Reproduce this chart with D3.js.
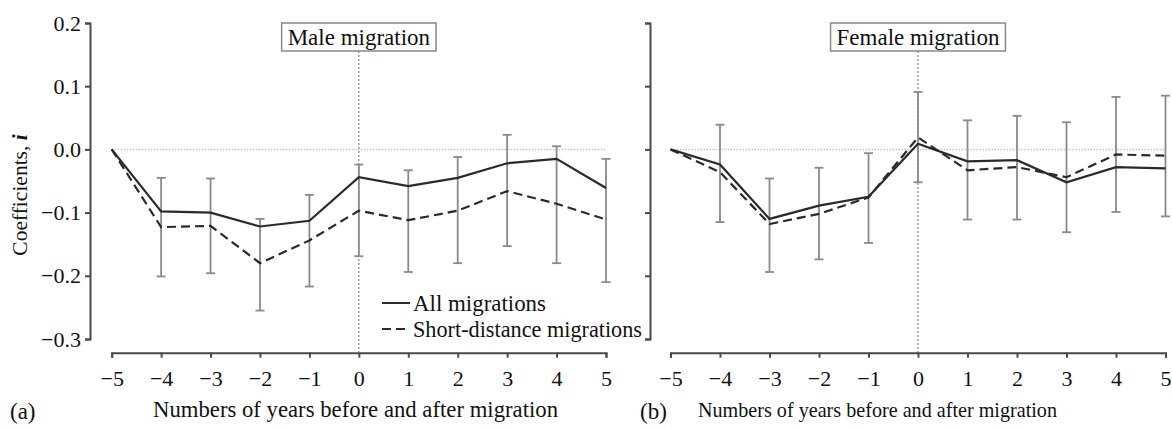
<!DOCTYPE html>
<html><head><meta charset="utf-8">
<script src="https://cdn.jsdelivr.net/npm/d3@7"></script>
<style>
html,body{margin:0;padding:0;background:#fff;}
svg{display:block;font-family:"Liberation Serif","Times New Roman",serif;}
</style></head>
<body><svg id="c" width="1172" height="428"></svg>
<script>
// ---- data ----
const years = [-5,-4,-3,-2,-1,0,1,2,3,4,5];
const yTicks = [0.2,0.1,0.0,-0.1,-0.2,-0.3];
const seriesNames = ["All migrations","Short-distance migrations"];
const panelTitles = ["Male migration","Female migration"];
const panelLetters = ["(a)","(b)"];
const xTitle = "Numbers of years before and after migration";

const maleAll   = [0,-0.098,-0.100,-0.122,-0.113,-0.044,-0.058,-0.045,-0.022,-0.015,-0.061];
const maleShort = [0,-0.123,-0.121,-0.180,-0.144,-0.097,-0.112,-0.097,-0.066,-0.086,-0.111];
const maleHi    = [null,-0.045,-0.046,-0.110,-0.072,-0.024,-0.033,-0.012,0.023,0.005,-0.015];
const maleLo    = [null,-0.201,-0.196,-0.255,-0.217,-0.169,-0.194,-0.180,-0.153,-0.180,-0.210];

const femAll    = [0,-0.024,-0.110,-0.089,-0.075,0.009,-0.019,-0.017,-0.052,-0.028,-0.030];
const femShort  = [0,-0.036,-0.118,-0.102,-0.076,0.019,-0.033,-0.028,-0.044,-0.008,-0.010];
const femHi     = [null,0.039,-0.046,-0.029,-0.006,0.091,0.046,0.053,0.043,0.083,0.085];
const femLo     = [null,-0.115,-0.194,-0.174,-0.148,-0.052,-0.111,-0.111,-0.131,-0.099,-0.106];

// ---- layout ----
const svg = d3.select("#c");
const y = d3.scaleLinear().domain([-0.3,0.2]).range([339,23]);
const axisY = 352.7;
const panels = [
  {yAxisX:90, x0:111.7, x1:606, all:maleAll, short:maleShort, hi:maleHi, lo:maleLo,
   title:panelTitles[0], letter:panelLetters[0], letterX:10, labels:true, legend:true,
   titleX:355.5, titleLen:405, titleSize:23},
  {yAxisX:650, x0:670.5, x1:1165.5, all:femAll, short:femShort, hi:femHi, lo:femLo,
   title:panelTitles[1], letter:panelLetters[1], letterX:640, labels:false, legend:false,
   titleX:877.5, titleLen:359, titleSize:22}
];
const axisColor = "#4a4a4a", errColor = "#8a8a8a", lineColor = "#2a2a2a";

panels.forEach(p => {
  const x = d3.scaleLinear().domain([-5,5]).range([p.x0,p.x1]);
  const g = svg.append("g");

  // zero reference
  g.append("line").attr("x1",x(-5)).attr("x2",x(5)).attr("y1",y(0)).attr("y2",y(0))
    .attr("stroke","#c4c4c4").attr("stroke-width",1.5).attr("stroke-dasharray","1.5,1.5");
  // vertical marker at 0
  g.append("line").attr("x1",x(0)).attr("x2",x(0)).attr("y1",51).attr("y2",axisY)
    .attr("stroke","#666").attr("stroke-width",1).attr("stroke-dasharray","2,2");

  // y axis
  const ya = d3.axisLeft(y).tickValues(yTicks).tickSize(5).tickPadding(4)
    .tickFormat(p.labels ? d3.format(".1f") : () => "");
  const yg = g.append("g").attr("transform",`translate(${p.yAxisX},0)`).call(ya);
  yg.selectAll("path,line").attr("stroke",axisColor).attr("stroke-width",2);
  yg.selectAll("text").attr("font-size",22).attr("fill","#111")
    .attr("font-family","Liberation Serif");

  // x axis
  const xa = d3.axisBottom(x).tickValues(years).tickSize(5).tickPadding(13)
    .tickFormat(d3.format("d"));
  const xg = g.append("g").attr("transform",`translate(0,${axisY})`).call(xa);
  xg.selectAll("path,line").attr("stroke",axisColor).attr("stroke-width",2);
  xg.selectAll("text").attr("font-size",22).attr("fill","#111")
    .attr("font-family","Liberation Serif");

  // error bars
  const eb = g.append("g").attr("stroke",errColor).attr("stroke-width",1.8);
  years.forEach((yr,i) => {
    if (p.hi[i] === null) return;
    eb.append("line").attr("x1",x(yr)).attr("x2",x(yr)).attr("y1",y(p.hi[i])).attr("y2",y(p.lo[i]));
    [p.hi[i],p.lo[i]].forEach(v => {
      eb.append("line").attr("x1",x(yr)-4.5).attr("x2",x(yr)+4.5).attr("y1",y(v)).attr("y2",y(v));
    });
  });

  // lines
  const line = d3.line().x((d,i)=>x(years[i])).y(d=>y(d));
  g.append("path").datum(p.short).attr("d",line).attr("fill","none")
    .attr("stroke",lineColor).attr("stroke-width",2.2).attr("stroke-dasharray","9,5");
  g.append("path").datum(p.all).attr("d",line).attr("fill","none")
    .attr("stroke",lineColor).attr("stroke-width",2.2);

  // title box
  const tt = g.append("text").attr("x",x(0)).attr("y",44.5).attr("text-anchor","middle")
    .attr("font-size",23).attr("fill","#111").text(p.title);
  const w = tt.node().getComputedTextLength();
  g.insert("rect", () => tt.node()).attr("x",x(0)-w/2-6).attr("y",23).attr("width",w+12).attr("height",28)
    .attr("fill","#fff").attr("stroke","#888").attr("stroke-width",1.5);

  // x title and letter
  g.append("text").attr("x",p.titleX).attr("y",417).attr("text-anchor","middle")
    .attr("font-size",p.titleSize).attr("fill","#111")
    .attr("textLength",p.titleLen).attr("lengthAdjust","spacingAndGlyphs").text(xTitle);
  g.append("text").attr("x",p.letterX).attr("y",419).attr("font-size",23).attr("fill","#111").text(p.letter);

  // legend
  if (p.legend) {
    const lg = g.append("g");
    const rows = [{name:seriesNames[0],dash:null,y:303,len:133},{name:seriesNames[1],dash:"9,5",y:329,len:229}];
    rows.forEach(r => {
      lg.append("line").attr("x1",382).attr("x2",410).attr("y1",r.y).attr("y2",r.y)
        .attr("stroke",lineColor).attr("stroke-width",2).attr("stroke-dasharray",r.dash);
      lg.append("text").attr("x",413).attr("y",r.y+7.5).attr("font-size",22.5).attr("fill","#111")
        .attr("textLength",r.len).attr("lengthAdjust","spacingAndGlyphs").text(r.name);
    });
  }
});

// y axis title
svg.append("text").attr("transform","translate(27,195) rotate(-90)").attr("text-anchor","middle")
  .attr("font-size",21.5).attr("fill","#111")
  .call(t => { t.append("tspan").text("Coefficients, ");
               t.append("tspan").attr("font-weight","bold").attr("font-style","italic").text("i"); });
</script>
</body></html>
